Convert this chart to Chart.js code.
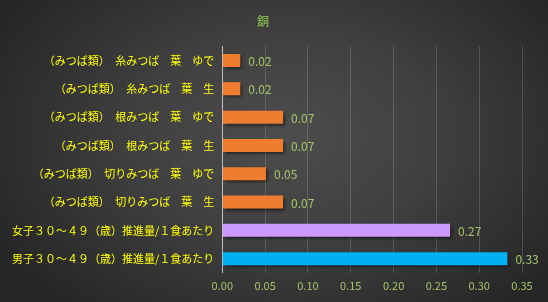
<!DOCTYPE html>
<html>
<head>
<meta charset="utf-8">
<script src="https://cdn.jsdelivr.net/npm/chart.js@4"></script>
<style>
  html, body { margin: 0; padding: 0; }
  body {
    width: 548px; height: 302px; overflow: hidden;
    background: radial-gradient(ellipse 60% 75% at 52% 45%, #4d4d4d 0%, #404040 45%, #262626 100%);
  }
  #wrap { position: relative; width: 548px; height: 302px; }
</style>
</head>
<body>
<div id="wrap"><canvas id="chart" width="548" height="302"></canvas></div>
<script>
'use strict';

// categories, top to bottom
const labels = [
  '（みつば類）　糸みつば　葉　ゆで',
  '（みつば類）　糸みつば　葉　生',
  '（みつば類）　根みつば　葉　ゆで',
  '（みつば類）　根みつば　葉　生',
  '（みつば類）　切りみつば　葉　ゆで',
  '（みつば類）　切りみつば　葉　生',
  '女子３０～４９（歳）推進量/１食あたり',
  '男子３０～４９（歳）推進量/１食あたり'
];
const values = [0.021, 0.021, 0.071, 0.071, 0.051, 0.071, 0.266, 0.333];
const barColors = ['#f07c30', '#f07c30', '#f07c30', '#f07c30', '#f07c30', '#f07c30', '#cc99ff', '#00b0f0'];
const xTicks = [0, 0.05, 0.10, 0.15, 0.20, 0.25, 0.30, 0.35];
const chartTitle = '銅';

const FONT = '"Noto Sans CJK JP", "Noto Sans", sans-serif';

// drop shadow under the bars
const barShadow = {
  id: 'barShadow',
  beforeDatasetDraw(chart) {
    const ctx = chart.ctx;
    ctx.save();
    ctx.shadowColor = 'rgba(0,0,0,0.6)';
    ctx.shadowBlur = 3;
    ctx.shadowOffsetX = 2;
    ctx.shadowOffsetY = 2;
  },
  afterDatasetDraw(chart) { chart.ctx.restore(); }
};

// value labels at bar ends
const valueLabels = {
  id: 'valueLabels',
  afterDatasetsDraw(chart) {
    const ctx = chart.ctx;
    const meta = chart.getDatasetMeta(0);
    ctx.save();
    ctx.font = '12px ' + FONT;
    ctx.fillStyle = '#a5c66a';
    ctx.textBaseline = 'middle';
    ctx.textAlign = 'left';
    meta.data.forEach((bar, i) => {
      ctx.fillText(values[i].toFixed(2), bar.x + 8, bar.y + 1);
    });
    ctx.restore();
  }
};

new Chart(document.getElementById('chart'), {
  type: 'bar',
  data: {
    labels,
    datasets: [{
      data: values,
      backgroundColor: barColors,
      borderWidth: 0,
      categoryPercentage: 1,
      barPercentage: 0.46
    }]
  },
  options: {
    indexAxis: 'y',
    responsive: false,
    animation: false,
    layout: { padding: { top: 0, right: 26, bottom: 4, left: 4 } },
    plugins: {
      legend: { display: false },
      tooltip: { enabled: false },
      title: {
        display: true, text: chartTitle, color: '#92d050',
        font: { family: FONT, size: 12, weight: 'normal' },
        padding: { top: 14, bottom: 18 }
      }
    },
    scales: {
      x: {
        min: 0, max: 0.35,
        afterBuildTicks: axis => { axis.ticks = xTicks.map(v => ({ value: v })); },
        ticks: {
          color: '#a5c66a', font: { family: FONT, size: 11 }, padding: 6,
          callback: v => Number(v).toFixed(2)
        },
        grid: { color: 'rgba(200,200,200,0.22)', drawTicks: false },
        border: { display: false }
      },
      y: {
        ticks: { color: '#ffff00', font: { family: FONT, size: 11 }, padding: 8 },
        grid: { display: false, drawTicks: false },
        border: { display: true, color: '#bfbfbf', width: 1 }
      }
    }
  },
  plugins: [barShadow, valueLabels]
});
</script>
</body>
</html>
